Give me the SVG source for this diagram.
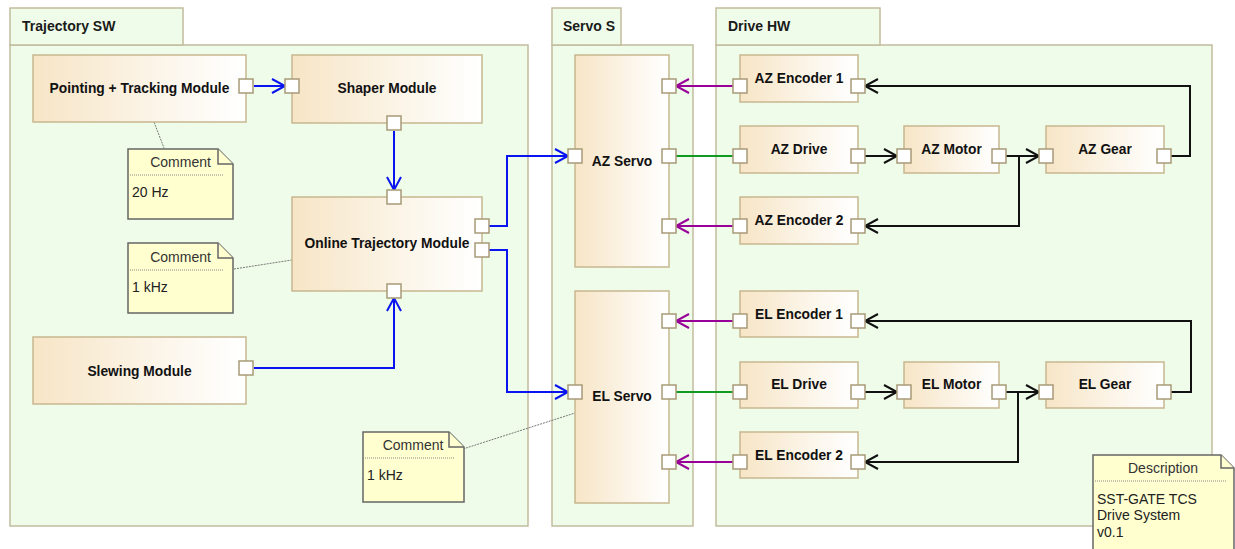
<svg xmlns="http://www.w3.org/2000/svg" width="1235" height="549" viewBox="0 0 1235 549">
  <defs>
    <linearGradient id="nodeFill" x1="0" y1="0" x2="1" y2="0">
      <stop offset="0" stop-color="#f7e5c6"/>
      <stop offset="0.85" stop-color="#fefcf8"/>
      <stop offset="1" stop-color="#ffffff"/>
    </linearGradient>
    <marker id="arrBlue" markerUnits="userSpaceOnUse" markerWidth="18" markerHeight="18" refX="15" refY="9" orient="auto">
      <path d="M2,2 L15,9 L2,16" fill="none" stroke="#0a14f0" stroke-width="2"/>
    </marker>
    <marker id="arrPurple" markerUnits="userSpaceOnUse" markerWidth="18" markerHeight="18" refX="15" refY="9" orient="auto">
      <path d="M2,2 L15,9 L2,16" fill="none" stroke="#990099" stroke-width="2"/>
    </marker>
    <marker id="arrBlack" markerUnits="userSpaceOnUse" markerWidth="18" markerHeight="18" refX="15" refY="9" orient="auto">
      <path d="M2,2 L15,9 L2,16" fill="none" stroke="#111111" stroke-width="2"/>
    </marker>
  </defs>
  <style>
    .pkg { fill: #effce9; stroke: #c2bc9e; stroke-width: 1.5; }
    .pkgTitle { font-family: "Liberation Sans", Arial, sans-serif; font-weight: bold; font-size: 14px; fill: #1a1a1a; }
    .node { fill: url(#nodeFill); stroke: #c8b690; stroke-width: 1.5; }
    .port { fill: #ffffff; stroke: #a89a78; stroke-width: 1.5; }
    .label { font-family: "Liberation Sans", Arial, sans-serif; font-weight: bold; font-size: 13.8px; fill: #111111; text-anchor: middle; }
    .note { fill: #ffffd0; stroke: #666666; stroke-width: 1.5; }
    .noteHead { font-family: "Liberation Sans", Arial, sans-serif; font-size: 14px; fill: #333333; text-anchor: middle; }
    .noteText { font-family: "Liberation Sans", Arial, sans-serif; font-size: 14px; fill: #222222; }
    .sep { stroke: #888888; stroke-width: 1; stroke-dasharray: 1,1; fill: none; }
    .anchor { stroke: #777777; stroke-width: 1; stroke-dasharray: 2,1; fill: none; }
    .blue { stroke: #0a14f0; stroke-width: 2; fill: none; marker-end: url(#arrBlue); }
    .purple { stroke: #990099; stroke-width: 2; fill: none; marker-end: url(#arrPurple); }
    .green { stroke: #119a22; stroke-width: 2; fill: none; }
    .black { stroke: #111111; stroke-width: 2; fill: none; marker-end: url(#arrBlack); }
  </style>

  <!-- Packages -->
  <g id="pkg-trajectory-sw">
    <rect class="pkg" x="10" y="45" width="518" height="481"/>
    <rect class="pkg" x="10" y="8" width="173" height="37"/>
    <text class="pkgTitle" x="22" y="31">Trajectory SW</text>
  </g>
  <g id="pkg-servo-s">
    <rect class="pkg" x="552" y="45" width="141" height="481"/>
    <rect class="pkg" x="552" y="8" width="69" height="37"/>
    <text class="pkgTitle" x="563" y="31">Servo S</text>
  </g>
  <g id="pkg-drive-hw">
    <rect class="pkg" x="716" y="45" width="496" height="481"/>
    <rect class="pkg" x="716" y="8" width="164" height="37"/>
    <text class="pkgTitle" x="728" y="31">Drive HW</text>
  </g>

  <!-- Connectors -->
  <g id="connectors">
    <!-- trajectory data flow -->
    <path class="blue" d="M254,86 L285,86"/>
    <path class="blue" d="M394,131 L394,190"/>
    <path class="blue" d="M489,226 H507 V156 H568"/>
    <path class="blue" d="M489,250 H507 V392 H568"/>
    <path class="blue" d="M254,368 H394 V298"/>
    <!-- encoder feedback to servos -->
    <path class="purple" d="M733,86 L676,86"/>
    <path class="purple" d="M733,226 L676,226"/>
    <path class="purple" d="M733,321 L676,321"/>
    <path class="purple" d="M733,462 L676,462"/>
    <!-- servo to drive -->
    <path class="green" d="M676,156 L733,156"/>
    <path class="green" d="M676,392 L733,392"/>
    <!-- AZ axis mechanics -->
    <path class="black" d="M865,156 L897,156"/>
    <path class="black" d="M1006,156 L1039,156"/>
    <path class="black" d="M1019,156 V226 H865"/>
    <path class="black" d="M1171,156 H1190 V86 H865"/>
    <!-- EL axis mechanics -->
    <path class="black" d="M865,392 L897,392"/>
    <path class="black" d="M1006,392 L1039,392"/>
    <path class="black" d="M1018,392 V462 H865"/>
    <path class="black" d="M1171,392 H1191 V321 H865"/>
    <!-- note anchors -->
    <path class="anchor" d="M154,122 L164,148"/>
    <path class="anchor" d="M234,269 L292,260"/>
    <path class="anchor" d="M463,449 L575,413"/>
  </g>

  <!-- Trajectory SW nodes -->
  <g id="pointing-tracking">
    <rect class="node" x="33" y="55" width="213" height="67"/>
    <text class="label" x="139.5" y="93">Pointing + Tracking Module</text>
    <rect class="port" x="239" y="79" width="14" height="14"/>
  </g>
  <g id="shaper">
    <rect class="node" x="292" y="55" width="190" height="68"/>
    <text class="label" x="387" y="93">Shaper Module</text>
    <rect class="port" x="285" y="79" width="14" height="14"/>
    <rect class="port" x="387" y="116" width="14" height="14"/>
  </g>
  <g id="online-trajectory">
    <rect class="node" x="292" y="197" width="190" height="94"/>
    <text class="label" x="387" y="248">Online Trajectory Module</text>
    <rect class="port" x="387" y="190" width="14" height="14"/>
    <rect class="port" x="475" y="219" width="14" height="14"/>
    <rect class="port" x="475" y="243" width="14" height="14"/>
    <rect class="port" x="387" y="284" width="14" height="14"/>
  </g>
  <g id="slewing">
    <rect class="node" x="33" y="337" width="213" height="67"/>
    <text class="label" x="139.5" y="375.5">Slewing Module</text>
    <rect class="port" x="239" y="361" width="14" height="14"/>
  </g>

  <!-- Servo nodes -->
  <g id="az-servo">
    <rect class="node" x="575" y="55" width="94" height="212"/>
    <text class="label" x="622" y="165.5">AZ Servo</text>
    <rect class="port" x="568" y="149" width="14" height="14"/>
    <rect class="port" x="662" y="79" width="14" height="14"/>
    <rect class="port" x="662" y="149" width="14" height="14"/>
    <rect class="port" x="662" y="219" width="14" height="14"/>
  </g>
  <g id="el-servo">
    <rect class="node" x="575" y="291" width="94" height="212"/>
    <text class="label" x="622" y="401">EL Servo</text>
    <rect class="port" x="568" y="385" width="14" height="14"/>
    <rect class="port" x="662" y="314" width="14" height="14"/>
    <rect class="port" x="662" y="385" width="14" height="14"/>
    <rect class="port" x="662" y="455" width="14" height="14"/>
  </g>

  <!-- Drive HW nodes: azimuth -->
  <g id="az-encoder-1">
    <rect class="node" x="740" y="55" width="118" height="47"/>
    <text class="label" x="799" y="83">AZ Encoder 1</text>
    <rect class="port" x="733" y="79" width="14" height="14"/>
    <rect class="port" x="851" y="79" width="14" height="14"/>
  </g>
  <g id="az-drive">
    <rect class="node" x="740" y="126" width="118" height="47"/>
    <text class="label" x="799" y="154">AZ Drive</text>
    <rect class="port" x="733" y="149" width="14" height="14"/>
    <rect class="port" x="851" y="149" width="14" height="14"/>
  </g>
  <g id="az-encoder-2">
    <rect class="node" x="740" y="197" width="118" height="47"/>
    <text class="label" x="799" y="224.5">AZ Encoder 2</text>
    <rect class="port" x="733" y="219" width="14" height="14"/>
    <rect class="port" x="851" y="219" width="14" height="14"/>
  </g>
  <g id="az-motor">
    <rect class="node" x="904" y="126" width="95" height="47"/>
    <text class="label" x="951.5" y="154">AZ Motor</text>
    <rect class="port" x="897" y="149" width="14" height="14"/>
    <rect class="port" x="992" y="149" width="14" height="14"/>
  </g>
  <g id="az-gear">
    <rect class="node" x="1046" y="126" width="118" height="47"/>
    <text class="label" x="1105" y="154">AZ Gear</text>
    <rect class="port" x="1039" y="149" width="14" height="14"/>
    <rect class="port" x="1157" y="149" width="14" height="14"/>
  </g>

  <!-- Drive HW nodes: elevation -->
  <g id="el-encoder-1">
    <rect class="node" x="740" y="291" width="118" height="46"/>
    <text class="label" x="799" y="318.5">EL Encoder 1</text>
    <rect class="port" x="733" y="314" width="14" height="14"/>
    <rect class="port" x="851" y="314" width="14" height="14"/>
  </g>
  <g id="el-drive">
    <rect class="node" x="740" y="362" width="118" height="46"/>
    <text class="label" x="799" y="389">EL Drive</text>
    <rect class="port" x="733" y="385" width="14" height="14"/>
    <rect class="port" x="851" y="385" width="14" height="14"/>
  </g>
  <g id="el-encoder-2">
    <rect class="node" x="740" y="432" width="118" height="46"/>
    <text class="label" x="799" y="460">EL Encoder 2</text>
    <rect class="port" x="733" y="455" width="14" height="14"/>
    <rect class="port" x="851" y="455" width="14" height="14"/>
  </g>
  <g id="el-motor">
    <rect class="node" x="904" y="362" width="95" height="46"/>
    <text class="label" x="951.5" y="389">EL Motor</text>
    <rect class="port" x="897" y="385" width="14" height="14"/>
    <rect class="port" x="992" y="385" width="14" height="14"/>
  </g>
  <g id="el-gear">
    <rect class="node" x="1046" y="362" width="118" height="46"/>
    <text class="label" x="1105" y="389">EL Gear</text>
    <rect class="port" x="1039" y="385" width="14" height="14"/>
    <rect class="port" x="1157" y="385" width="14" height="14"/>
  </g>

  <!-- Notes -->
  <g id="note-pointing-rate">
    <path class="note" d="M128,149 H218 L233,164 V219 H128 Z"/>
    <path class="note" d="M218,149 V164 H233" fill="none"/>
    <text class="noteHead" x="180.5" y="167">Comment</text>
    <line class="sep" x1="130" y1="175" x2="223" y2="175"/>
    <text class="noteText" x="132" y="197">20 Hz</text>
  </g>
  <g id="note-online-rate">
    <path class="note" d="M128,243 H218 L233,258 V313 H128 Z"/>
    <path class="note" d="M218,243 V258 H233" fill="none"/>
    <text class="noteHead" x="180.5" y="262">Comment</text>
    <line class="sep" x1="130" y1="270" x2="223" y2="270"/>
    <text class="noteText" x="132" y="292">1 kHz</text>
  </g>
  <g id="note-servo-rate">
    <path class="note" d="M363,432 H449 L464,447 V502 H363 Z"/>
    <path class="note" d="M449,432 V447 H464" fill="none"/>
    <text class="noteHead" x="413" y="450">Comment</text>
    <line class="sep" x1="365" y1="458" x2="455" y2="458"/>
    <text class="noteText" x="367" y="480">1 kHz</text>
  </g>
  <g id="note-description">
    <path class="note" d="M1093,455 H1221 L1234,468 V552 H1093 Z"/>
    <path class="note" d="M1221,455 V468 H1234" fill="none"/>
    <text class="noteHead" x="1163" y="473">Description</text>
    <line class="sep" x1="1095" y1="481" x2="1226" y2="481"/>
    <text class="noteText" x="1097" y="504">SST-GATE TCS</text>
    <text class="noteText" x="1097" y="520">Drive System</text>
    <text class="noteText" x="1097" y="537">v0.1</text>
  </g>
</svg>
